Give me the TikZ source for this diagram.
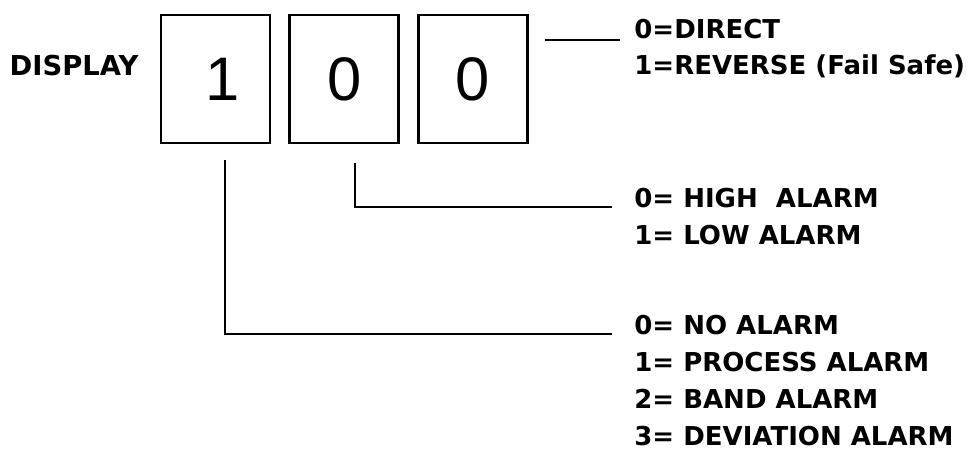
\documentclass[tikz,border=0pt]{standalone}
\usepackage{fontspec}
\setsansfont{DejaVu Sans}
\newfontfamily\digitfont{Liberation Sans}
\usetikzlibrary{positioning}

\begin{document}
\begin{tikzpicture}[x=0.02cm, y=-0.02cm,
    digitbox/.style={rectangle, draw, line width=1.5pt, minimum width=2.18cm, minimum height=2.56cm,
      inner sep=0pt, font=\digitfont\fontsize{35}{35}\selectfont},
    lbl/.style={anchor=base west, inner sep=0pt, font=\sffamily\bfseries\fontsize{14.8}{17}\selectfont},
    lead/.style={line width=1.6pt}]
    \useasboundingbox (0,0) rectangle (979,464);
    \node [lbl, anchor=base, font=\sffamily\bfseries\fontsize{15.6}{17}\selectfont] (disp) at (74,75) {DISPLAY};
    \node [digitbox] (b1) at (215.5,79) {\hspace{0.3cm}1};
    \node [digitbox, right=0.34cm of b1] (b2) {0};
    \node [digitbox, right=0.34cm of b2] (b3) {0\hspace{0.4cm}};
    \foreach \t [count=\k] in {0=DIRECT, 1=REVERSE (Fail Safe)} {
      \node [lbl] (rv\k) at (634, {2+36*\k}) {\t};
    }
    \foreach \t [count=\k] in {0= HIGH~ ALARM, 1= LOW ALARM} {
      \node [lbl] (hl\k) at (634, {170+37*\k}) {\t};
    }
    \foreach \t [count=\k] in {0= NO ALARM, 1= PROCESS ALARM, 2= BAND ALARM, 3= DEVIATION ALARM} {
      \node [lbl] (al\k) at (634, {297+37*\k}) {\t};
    }
    \coordinate (rvstart) at (545,40);
    \coordinate (hlstart) at (355,163);
    \coordinate (alstart) at (225,160);
    \draw [lead] (rvstart) -- ([xshift=-0.28cm]rv1.base west |- rvstart);
    \draw [lead] (hlstart) |- ([xshift=-0.44cm]hl1.base west);
    \draw [lead] (alstart) |- ([xshift=-0.44cm]al1.base west);
\end{tikzpicture}
\end{document}
